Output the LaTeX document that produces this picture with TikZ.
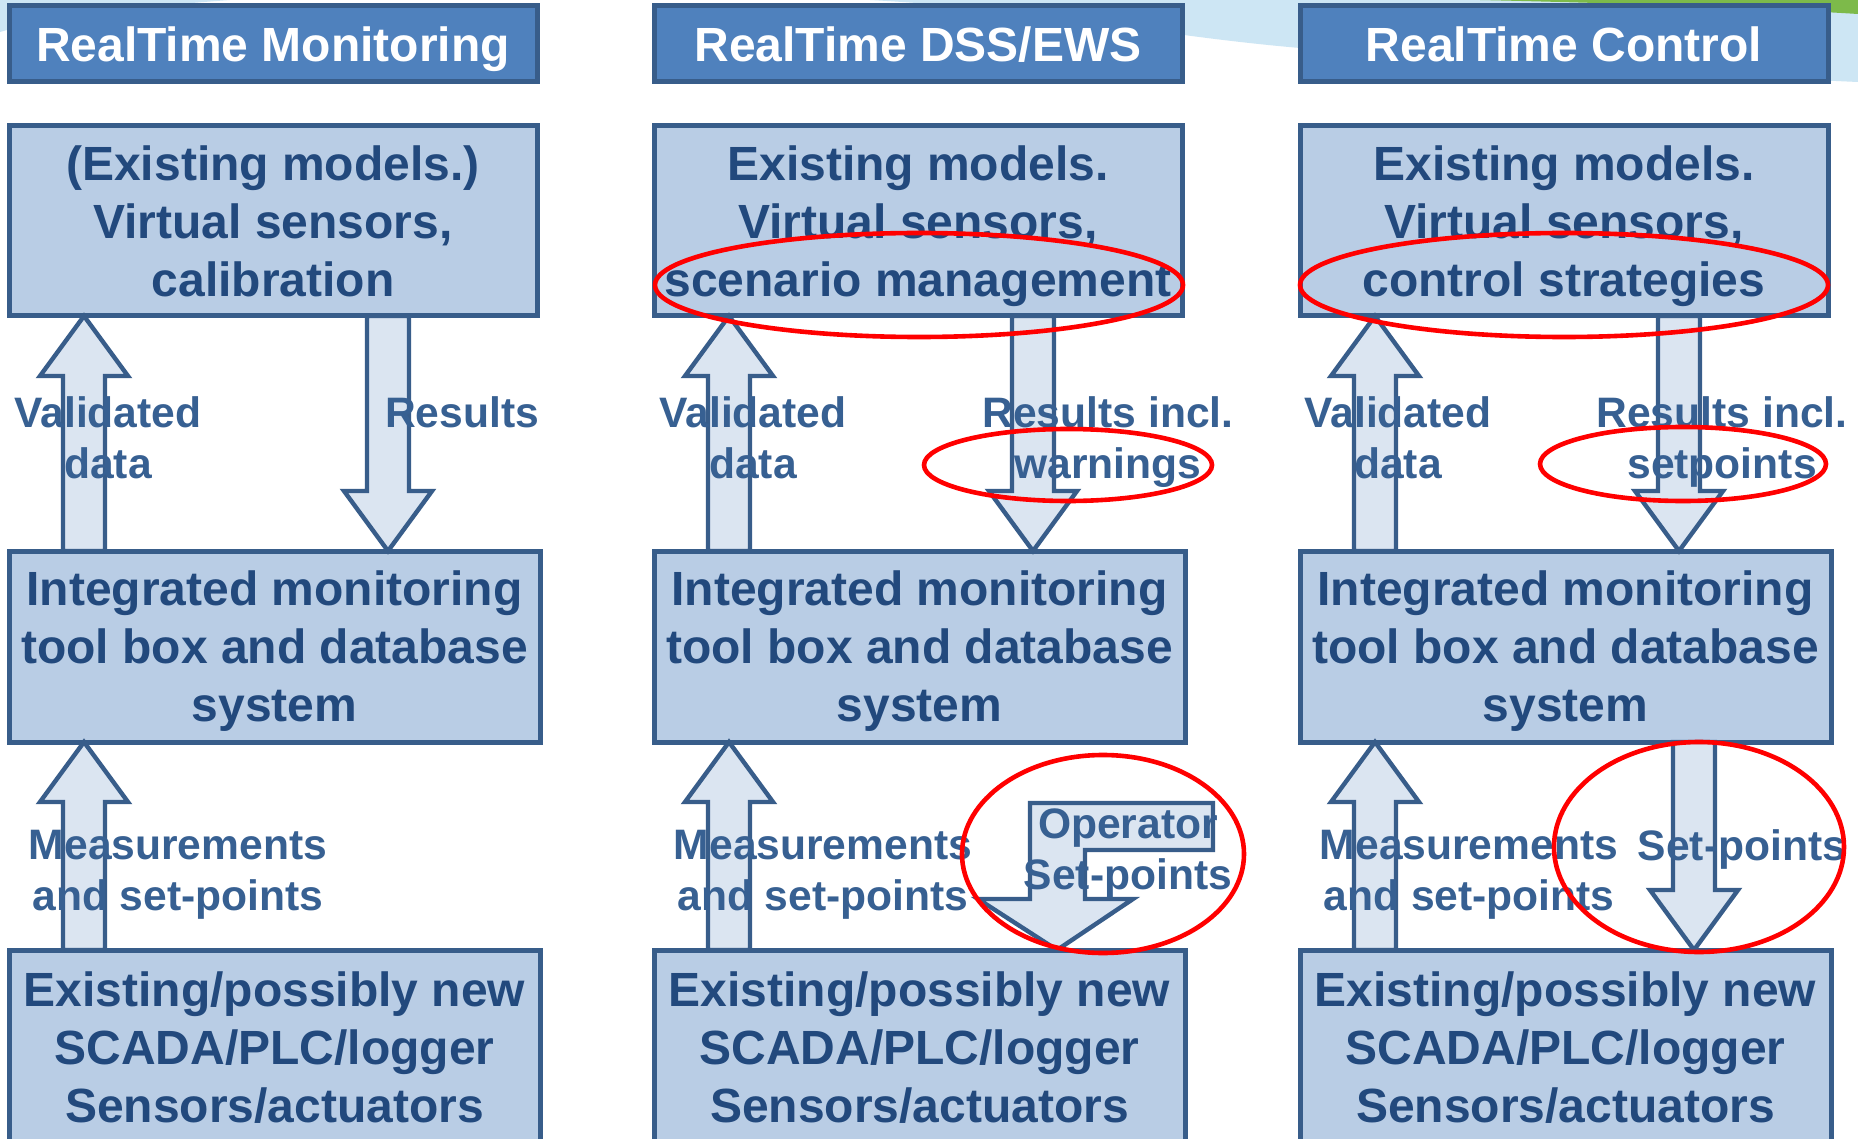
\documentclass[tikz,border=0pt]{standalone}
\usepackage{fontspec}
\setmainfont{Liberation Sans}
\usetikzlibrary{calc}

\definecolor{hdrfill}{HTML}{4F81BD}
\definecolor{edge}{HTML}{385D8A}
\definecolor{boxfill}{HTML}{B9CDE5}
\definecolor{boxtext}{HTML}{22497D}
\definecolor{lbltext}{HTML}{376092}
\definecolor{arrowfill}{HTML}{DBE5F1}
\definecolor{swoosh}{HTML}{CDE6F4}
\definecolor{leaf}{HTML}{7DBA4A}

\tikzset{
  hdr/.style={draw=edge, fill=hdrfill, line width=2.5pt, outer sep=0pt,
    minimum width=264pt, minimum height=38pt, inner sep=0pt, text=white,
    text depth=0pt, font=\fontsize{24}{28.8}\selectfont\bfseries},
  panel/.style={draw=edge, fill=boxfill, line width=2.5pt, outer sep=0pt,
    inner sep=0pt, align=center, text=boxtext, text depth=0pt,
    font=\fontsize{24}{29}\selectfont\bfseries},
  toppanel/.style={panel, minimum width=264pt, minimum height=95pt},
  midpanel/.style={panel, minimum width=265.5pt, minimum height=95.5pt},
  lowpanel/.style={panel, minimum width=265.5pt, minimum height=97pt},
  lbl/.style={align=center, text=lbltext, inner sep=0pt, text depth=0pt,
    font=\fontsize{21.3}{25.5}\selectfont\bfseries},
  blk/.style={draw=edge, fill=arrowfill, line width=2.2pt, line join=miter},
  ring/.style={draw=red, line width=2.3pt},
}

% block arrow from a tail coordinate to a tip coordinate (vertical)
\newcommand\blockarrow[2]{%
  \draw[blk] let \p1=(#1), \p2=(#2), \n1={(\y2>\y1) ? 1 : -1} in
    ({\x1-10.5pt},\y1) -- ({\x1-10.5pt},{\y2-(\n1)*30pt})
    -- ({\x1-22pt},{\y2-(\n1)*30pt}) -- (\x2,\y2)
    -- ({\x1+22pt},{\y2-(\n1)*30pt}) -- ({\x1+10.5pt},{\y2-(\n1)*30pt})
    -- ({\x1+10.5pt},\y1) -- cycle;}

\begin{document}
\begin{tikzpicture}[x=0.5pt, y=-0.5pt]
\useasboundingbox (0,0) rectangle (1858,1139);
\clip (0,0) rectangle (1858,1139);
\fill[white] (0,0) rectangle (1858,1139);

% faint swooshes along the top edge
\fill[swoosh] (0,0) -- (230,0) .. controls (120,8) and (40,20) .. (0,32) -- cycle;
\fill[swoosh] (870,0) .. controls (1050,10) and (1150,35) .. (1300,48)
  .. controls (1500,62) and (1700,75) .. (1858,82) -- (1858,0) -- cycle;
\fill[leaf] (1480,0) .. controls (1650,4) and (1760,8) .. (1858,14) -- (1858,0) -- cycle;

% column headers
\node[hdr] (h1) at (273,44)  {RealTime Monitoring};
\node[hdr] (h2) at (918,44)  {RealTime DSS/EWS};
\node[hdr] (h3) at (1564,44) {RealTime Control};

% model boxes
\node[toppanel] (top1) at (273,221)  {(Existing models.)\\Virtual sensors,\\calibration};
\node[toppanel] (top2) at (918,221)  {Existing models.\\Virtual sensors,\\scenario management};
\node[toppanel] (top3) at (1564,221) {Existing models.\\Virtual sensors,\\control strategies};

% monitoring tool boxes
\node[midpanel] (mid1) at (274.5,646.5)  {Integrated monitoring\\tool box and database\\system};
\node[midpanel] (mid2) at (919.5,646.5)  {Integrated monitoring\\tool box and database\\system};
\node[midpanel] (mid3) at (1565.5,646.5) {Integrated monitoring\\tool box and database\\system};

% field level boxes
\node[lowpanel] (low1) at (274.5,1047)  {Existing/possibly new\\SCADA/PLC/logger\\Sensors/actuators};
\node[lowpanel] (low2) at (919.5,1047)  {Existing/possibly new\\SCADA/PLC/logger\\Sensors/actuators};
\node[lowpanel] (low3) at (1565.5,1047) {Existing/possibly new\\SCADA/PLC/logger\\Sensors/actuators};

% flows between the levels
\foreach \c in {1,2,3}{
  \coordinate (vd\c a) at ([xshift=37.5pt]mid\c.north west);
  \coordinate (vd\c b) at ([xshift=37.5pt]top\c.south west);
  \coordinate (rs\c a) at ([xshift=189.5pt]top\c.south west);
  \coordinate (rs\c b) at ([xshift=189.5pt]mid\c.north west);
  \coordinate (ms\c a) at ([xshift=37.5pt]low\c.north west);
  \coordinate (ms\c b) at ([xshift=37.5pt]mid\c.south west);
  \blockarrow{vd\c a}{vd\c b}
  \blockarrow{rs\c a}{rs\c b}
  \blockarrow{ms\c a}{ms\c b}
}

% operator set-points (DSS/EWS)
\coordinate (optip) at ([xshift=201.5pt]low2.north west);
\draw[blk] (optip) -- ++(-79,-51) -- ++(52,0) -- ++(0,-96) -- ++(183,0)
  -- ++(0,47) -- ++(-128,0) -- ++(0,49) -- ++(48,0) -- cycle;

% set-points (Control)
\coordinate (sp3a) at ([xshift=197pt]mid3.south west);
\coordinate (sp3b) at ([xshift=197pt]low3.north west);
\blockarrow{sp3a}{sp3b}

% flow labels
\node[lbl] (lv1) at (108,437.5)  {Validated\\data};
\node[lbl] (lv2) at (753,437.5)  {Validated\\data};
\node[lbl] (lv3) at (1398,437.5) {Validated\\data};
\node[lbl] (lr1) at (462,412)    {Results};
\node[lbl] (lr2) at (1108,437.5) {Results incl.\\warnings};
\node[lbl] (lr3) at (1722,437.5) {Results incl.\\setpoints};
\node[lbl] (lm1) at (178,870.5)  {Measurements\\and set-points};
\node[lbl] (lm2) at (823,870.5)  {Measurements\\and set-points};
\node[lbl] (lm3) at (1469,870.5) {Measurements\\and set-points};
\node[lbl] (lo2) at (1128,849.5) {Operator\\Set-points};
\node[lbl] (ls3) at (1742,845)   {Set-points};

% highlight rings
\draw[ring] (919,285)  ellipse [x radius=264, y radius=52];
\draw[ring] (1564,285) ellipse [x radius=264, y radius=52];
\draw[ring] (1068,465) ellipse [x radius=144, y radius=36];
\draw[ring] (1683,464) ellipse [x radius=143, y radius=37];
\draw[ring] (1103,854) ellipse [x radius=141, y radius=99];
\draw[ring] (1699,847) ellipse [x radius=145, y radius=105];
\end{tikzpicture}
\end{document}
